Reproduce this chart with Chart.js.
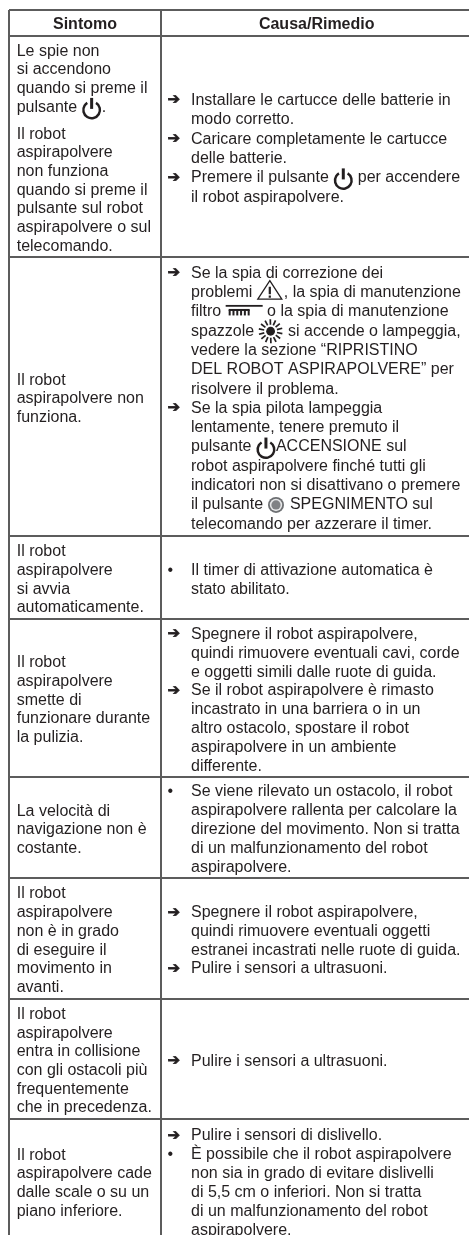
<!DOCTYPE html>
<html lang="it">
<head>
<meta charset="utf-8">
<title>Sintomo - Causa/Rimedio</title>
<script src="https://cdn.jsdelivr.net/npm/chart.js@4/dist/chart.umd.min.js"></script>
<style>
    html, body { margin: 0; padding: 0; background: #fff; }
    canvas { display: block; filter: blur(0.4px); }
</style>
</head>
<body>
<canvas id="tableChart" width="469" height="1235"></canvas>
<script>
const headers = ['Sintomo', 'Causa/Rimedio'];

// column and row rules, used as tick values of the two axes
const columnEdges = [9, 161];
const rowEdges = [10, 36, 257, 536, 619, 777, 878, 999, 1119, 1243];

const symptoms = [
    ['Le spie non', 'si accendono', 'quando si preme il', 'pulsante {power}.', '', 'Il robot', 'aspirapolvere', 'non funziona', 'quando si preme il', 'pulsante sul robot', 'aspirapolvere o sul', 'telecomando.'],
    ['Il robot', 'aspirapolvere non', 'funziona.'],
    ['Il robot', 'aspirapolvere', 'si avvia', 'automaticamente.'],
    ['Il robot', 'aspirapolvere', 'smette di', 'funzionare durante', 'la pulizia.'],
    ['La velocità di', 'navigazione non è', 'costante.'],
    ['Il robot', 'aspirapolvere', 'non è in grado', 'di eseguire il', 'movimento in', 'avanti.'],
    ['Il robot', 'aspirapolvere', 'entra in collisione', 'con gli ostacoli più', 'frequentemente', 'che in precedenza.'],
    ['Il robot', 'aspirapolvere cade', 'dalle scale o su un', 'piano inferiore.']
];

// a line starting with a marker hangs it in the margin of the column
const remedies = [
    ['➔Installare le cartucce delle batterie in', 'modo corretto.', '➔Caricare completamente le cartucce', 'delle batterie.', '➔Premere il pulsante {power} per accendere', 'il robot aspirapolvere.'],
    ['➔Se la spia di correzione dei', 'problemi {warning}, la spia di manutenzione', 'filtro {filter} o la spia di manutenzione', 'spazzole {brush} si accende o lampeggia,', 'vedere la sezione “RIPRISTINO', 'DEL ROBOT ASPIRAPOLVERE” per', 'risolvere il problema.', '➔Se la spia pilota lampeggia', 'lentamente, tenere premuto il', 'pulsante {power}ACCENSIONE sul', 'robot aspirapolvere finché tutti gli', 'indicatori non si disattivano o premere', 'il pulsante {stop} SPEGNIMENTO sul', 'telecomando per azzerare il timer.'],
    ['•Il timer di attivazione automatica è', 'stato abilitato.'],
    ['➔Spegnere il robot aspirapolvere,', 'quindi rimuovere eventuali cavi, corde', 'e oggetti simili dalle ruote di guida.', '➔Se il robot aspirapolvere è rimasto', 'incastrato in una barriera o in un', 'altro ostacolo, spostare il robot', 'aspirapolvere in un ambiente', 'differente.'],
    ['•Se viene rilevato un ostacolo, il robot', 'aspirapolvere rallenta per calcolare la', 'direzione del movimento. Non si tratta', 'di un malfunzionamento del robot', 'aspirapolvere.'],
    ['➔Spegnere il robot aspirapolvere,', 'quindi rimuovere eventuali oggetti', 'estranei incastrati nelle ruote di guida.', '➔Pulire i sensori a ultrasuoni.'],
    ['➔Pulire i sensori a ultrasuoni.'],
    ['➔Pulire i sensori di dislivello.', '•È possibile che il robot aspirapolvere', 'non sia in grado di evitare dislivelli', 'di 5,5 cm o inferiori. Non si tratta', 'di un malfunzionamento del robot', 'aspirapolvere.']
];

const remedyPitch = [19.4, 19.3, 19, 18.8, 19, 18.6, 19, 19];

const fontSize = 16;
const inkColor = '#231f20';
const ruleColor = '#5c5c5c';
const iconWidths = { power: 20, warning: 27, filter: 37, brush: 25, stop: 18 };

function drawIcon(ctx, name, x, y) {
    ctx.save();
    ctx.strokeStyle = inkColor;
    ctx.fillStyle = inkColor;
    ctx.lineCap = 'butt';
    if (name === 'power') {
        const cx = x + 10;
        const cy = y + 2.5;
        ctx.lineWidth = 2.5;
        ctx.beginPath();
        ctx.arc(cx, cy, 8.3, -Math.PI / 2 + 0.55, -Math.PI / 2 - 0.55 + Math.PI * 2);
        ctx.stroke();
        ctx.lineWidth = 3;
        ctx.beginPath();
        ctx.moveTo(cx, cy - 12);
        ctx.lineTo(cx, cy - 1);
        ctx.stroke();
    } else if (name === 'warning') {
        ctx.lineWidth = 1.3;
        ctx.beginPath();
        ctx.moveTo(x + 13, y - 12);
        ctx.lineTo(x + 25, y + 6.5);
        ctx.lineTo(x + 1, y + 6.5);
        ctx.closePath();
        ctx.stroke();
        ctx.lineWidth = 2.2;
        ctx.beginPath();
        ctx.moveTo(x + 13, y - 6);
        ctx.lineTo(x + 13, y + 1.5);
        ctx.moveTo(x + 13, y + 2.8);
        ctx.lineTo(x + 13, y + 5);
        ctx.stroke();
    } else if (name === 'filter') {
        ctx.fillRect(x, y - 7, 37, 1.8);
        ctx.fillRect(x + 3, y - 3, 21, 2);
        for (let i = 0; i < 6; i++) {
            ctx.fillRect(x + 3 + i * 3.8, y - 2, 2, 5.5);
        }
    } else if (name === 'brush') {
        const cx = x + 12;
        const cy = y;
        ctx.beginPath();
        ctx.arc(cx, cy, 4.4, 0, Math.PI * 2);
        ctx.fill();
        ctx.lineWidth = 1.7;
        for (let i = 0; i < 14; i++) {
            const a = i / 14 * Math.PI * 2 + 0.2;
            ctx.beginPath();
            ctx.moveTo(cx + Math.cos(a) * 6.5, cy + Math.sin(a) * 6.5);
            ctx.lineTo(cx + Math.cos(a) * 12, cy + Math.sin(a) * 12);
            ctx.stroke();
        }
    } else if (name === 'stop') {
        const cx = x + 8.5;
        ctx.fillStyle = '#6d6f72';
        ctx.beginPath();
        ctx.arc(cx, y, 8, 0, Math.PI * 2);
        ctx.fill();
        ctx.fillStyle = '#e6e7e8';
        ctx.beginPath();
        ctx.arc(cx, y, 6.2, 0, Math.PI * 2);
        ctx.fill();
        ctx.fillStyle = '#808285';
        ctx.beginPath();
        ctx.arc(cx, y, 4.6, 0, Math.PI * 2);
        ctx.fill();
    }
    ctx.restore();
}

// writes one line of text, swapping {name} tokens for small icons
function drawLine(ctx, line, x, y) {
    let cursor = x;
    line.split(/(\{\w+\})/).forEach(part => {
        const token = part.match(/^\{(\w+)\}$/);
        if (token) {
            drawIcon(ctx, token[1], cursor, y);
            cursor += iconWidths[token[1]];
        } else if (part) {
            ctx.fillText(part, cursor, y);
            cursor += ctx.measureText(part).width;
        }
    });
}

function drawCell(ctx, lines, x, markerX, centerY, pitch) {
    const paragraphGap = 8;
    const height = lines.reduce((sum, line, i) => {
        if (i === 0) return sum;
        return sum + (line === '' ? paragraphGap : pitch);
    }, 0);
    let y = centerY - height / 2;
    lines.forEach(line => {
        if (line === '') {
            y += paragraphGap;
            return;
        }
        const marker = line[0] === '➔' || line[0] === '•' ? line[0] : null;
        if (marker) {
            ctx.save();
            ctx.font = (marker === '➔' ? 'bold 15px "DejaVu Sans"' : fontSize + 'px "Liberation Sans"');
            ctx.fillText(marker, markerX, y);
            if (marker === '➔') {
                ctx.strokeStyle = inkColor;
                ctx.lineWidth = 0.7;
                ctx.strokeText(marker, markerX, y);
            }
            ctx.restore();
        }
        drawLine(ctx, marker ? line.slice(1) : line, x, y);
        y += pitch;
    });
}

const tableText = {
    id: 'tableText',
    afterDraw(chart) {
        const { ctx, scales: { x, y } } = chart;
        ctx.save();
        ctx.fillStyle = inkColor;
        ctx.textBaseline = 'middle';

        ctx.font = 'bold ' + fontSize + 'px "Liberation Sans"';
        ctx.textAlign = 'center';
        ctx.fillText(headers[0], x.getPixelForValue(85), y.getPixelForValue(24.5));
        ctx.fillText(headers[1], x.getPixelForValue(316.7), y.getPixelForValue(24.5));

        ctx.textAlign = 'left';
        ctx.font = fontSize + 'px "Liberation Sans"';
        symptoms.forEach((lines, i) => {
            const centerY = (y.getPixelForValue(rowEdges[i + 1]) + y.getPixelForValue(rowEdges[i + 2])) / 2 + 2.3;
            drawCell(ctx, lines, x.getPixelForValue(16.7), 0, centerY, 18.7);
            drawCell(ctx, remedies[i], x.getPixelForValue(191), x.getPixelForValue(167.5), centerY, remedyPitch[i]);
        });
        ctx.restore();
    }
};

// the first edge sits on the axis start, so the rules stop at the table corner
function ruleAxis(edges, max, reverse) {
    return {
        type: 'linear',
        min: edges[0],
        max: max,
        reverse: reverse,
        afterBuildTicks(axis) {
            axis.ticks = edges.map(value => ({ value }));
        },
        ticks: { display: false },
        border: { display: false },
        grid: { color: ruleColor, lineWidth: 2, drawTicks: false }
    };
}

new Chart(document.getElementById('tableChart'), {
    type: 'scatter',
    data: { datasets: [] },
    options: {
        responsive: false,
        animation: false,
        layout: { padding: { left: columnEdges[0], top: rowEdges[0], right: 0, bottom: 0 } },
        plugins: { legend: { display: false }, tooltip: { enabled: false } },
        scales: {
            x: ruleAxis(columnEdges, 469, false),
            y: ruleAxis(rowEdges, 1235, true)
        }
    },
    plugins: [tableText]
});
</script>
</body>
</html>
